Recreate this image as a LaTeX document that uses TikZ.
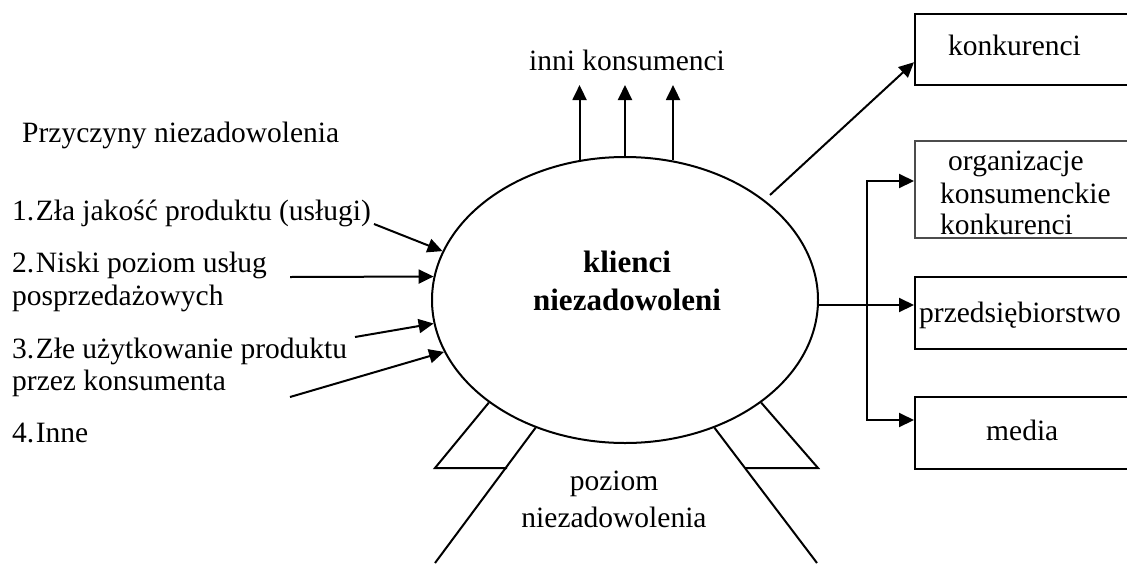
\documentclass[tikz,border=0pt]{standalone}
\usepackage{fontspec}
\setmainfont{Liberation Serif}
\usetikzlibrary{arrows.meta,shapes.geometric,calc}
\begin{document}
\begin{tikzpicture}[x=1pt,y=-1pt,
  txt/.style={inner sep=0pt,anchor=base west,font=\fontsize{29.5}{33}\selectfont},
  ctxt/.style={inner sep=0pt,anchor=base,font=\fontsize{29.5}{33}\selectfont},
  btxt/.style={inner sep=0pt,anchor=base,font=\fontsize{31}{34}\selectfont\bfseries},
  arr/.style={line width=2pt,-{Triangle[length=15pt,width=14pt]}},
  plain/.style={line width=2pt},
  box/.style={draw,line width=1.5pt,rectangle,inner sep=0pt,anchor=north west,minimum width=240pt},
  oval/.style={draw,line width=2pt,ellipse,inner sep=0pt,minimum width=386pt,minimum height=286pt}
]
\clip (0,0) rectangle (1127,563);
\fill[white] (0,0) rectangle (1127,563);

% central oval
\node[oval] (kl) at (625,300) {};
\node[btxt] (kl1) at (627,272) {klienci};
\node[btxt] (kl2) at (627,310) {niezadowoleni};

% causes on the left
\newcommand{\numgap}{\hspace{1.5pt}}
\node[txt] (hdr) at (22,142) {Przyczyny niezadowolenia};
\node[txt] (c1) at (12,220) {1.\numgap Zła jakość produktu (usługi)};
\node[txt] (c2) at (12,272) {2.\numgap Niski poziom usług};
\node[txt] (c2b) at (12,305) {posprzedażowych};
\node[txt] (c3) at (12,358) {3.\numgap Złe użytkowanie produktu};
\node[txt] (c3b) at (12,390) {przez konsumenta};
\node[txt] (c4) at (12,442) {4.\numgap Inne};

\coordinate (s1) at (374,224);
\coordinate (s2) at (290,277);
\coordinate (s3) at (355,337);
\coordinate (s4) at (290,397);
\draw[arr] (s1) -- (kl.165);
\draw[arr] (s2) -- (kl.173);
\draw[arr] (s3) -- (kl.187.5);
\draw[arr] (s4) -- (kl.196);

% other consumers
\node[ctxt] (inni) at (627,70) {inni konsumenci};
\coordinate (up) at (627,85);
\draw[arr] (kl.108.7) -- (kl.108.7 |- up);
\draw[arr] (kl.north) -- (kl.north |- up);
\draw[arr] (kl.71.3) -- (kl.71.3 |- up);

% boxes on the right
\node[box,minimum height=71pt] (kon) at (914,13) {};
\node[box,draw=black!70,minimum height=97pt] (org) at (914,140) {};
\node[box,minimum height=72pt] (prz) at (914,276) {};
\node[box,minimum height=72pt] (med) at (914,396) {};

\node[txt] (konT) at (948,55) {konkurenci};
\node[txt] (orgT1) at (948,170) {organizacje};
\node[txt] (orgT2) at (940,203) {konsumenckie};
\node[txt] (orgT3) at (940,234) {konkurenci};
\node[txt] (przT) at (919,322) {przedsiębiorstwo};
\node[txt] (medT) at (986,440) {media};

% connectors to the boxes
\coordinate (ks) at (770,195);
\draw[arr] (ks) -- ($(kon.west)+(0,13)$);
\coordinate (j1) at (867,181);
\coordinate (j2) at (867,420);
\coordinate (hz) at (818,305);
\draw[plain] (hz) -- (hz -| j1);
\draw[arr] (hz -| j1) -- (hz -| prz.west);
\draw[arr] (j2) -- (j1) -- (j1 -| org.west);
\draw[arr] (j1) -- (j2) -- (j2 -| med.west);

% level of dissatisfaction
\node[ctxt] (poz1) at (614,490) {poziom};
\node[ctxt] (poz2) at (614,527) {niezadowolenia};
\coordinate (la) at (435,468);
\coordinate (lb) at (507,468);
\coordinate (lc) at (435,563);
\coordinate (ra) at (818,468);
\coordinate (rb) at (745,468);
\coordinate (rc) at (817,563);
\draw[plain,line join=miter] (kl.217.8) -- (la) -- (lb);
\draw[plain] (kl.235.7) -- (lc);
\draw[plain,line join=miter] (kl.323) -- (ra) -- (rb);
\draw[plain] (kl.305.4) -- (rc);
\end{tikzpicture}
\end{document}
